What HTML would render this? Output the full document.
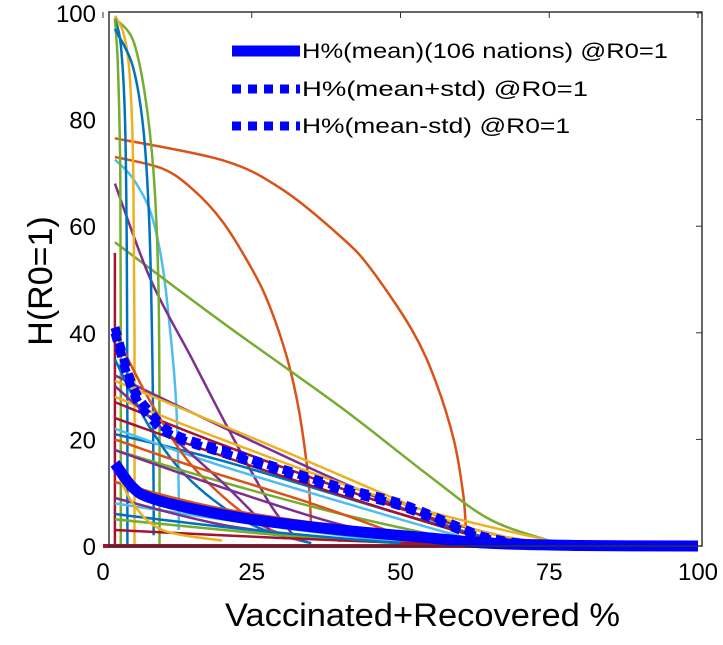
<!DOCTYPE html>
<html><head><meta charset="utf-8"><style>
body{margin:0;background:#fff}
svg{display:block;font-family:"Liberation Sans",Arial,sans-serif}
</style></head><body>
<svg id="chart" width="723" height="645" viewBox="0 0 723 645">
<rect x="0" y="0" width="723" height="645" fill="#fff"/>
<g id="lines"></g>
<g id="means"></g>
<rect x="109" y="12" width="593" height="534" fill="none" stroke="#333" stroke-width="1.5"/>
<g id="ticks"></g>
<text x="225" y="626" font-size="32" textLength="395" lengthAdjust="spacingAndGlyphs">Vaccinated+Recovered %</text>
<text transform="translate(52,281) rotate(-90)" font-size="34" text-anchor="middle">H(R0=1)</text>
<g>
<line x1="232" y1="51" x2="300" y2="51" stroke="#0000ff" stroke-width="11"/>
<text x="302" y="58" font-size="21" textLength="366" lengthAdjust="spacingAndGlyphs">H%(mean)(106 nations) @R0=1</text>
<line x1="232" y1="89" x2="300" y2="89" stroke="#0000ff" stroke-width="9" stroke-dasharray="9 7"/>
<text x="302" y="96" font-size="21" textLength="286" lengthAdjust="spacingAndGlyphs">H%(mean+std) @R0=1</text>
<line x1="232" y1="126" x2="300" y2="126" stroke="#0000ff" stroke-width="9" stroke-dasharray="9 7"/>
<text x="302" y="133" font-size="21" textLength="268" lengthAdjust="spacingAndGlyphs">H%(mean-std) @R0=1</text>
</g>
</svg>
<script>
const xTicks=[0,25,50,75,100];
const yTicks=[0,20,40,60,80,100];
const colors=['#0072BD','#D95319','#EDB120','#7E2F8E','#77AC30','#4DBEEE','#A2142F'];
const lineColors=[1,1,5,4,3,4,2,0,4,0,6,3,2,6,0,5,0,1,4,3,2,6,1,5,3,4,6,0,2,3,1,6];
const linePoints=[
[[2,76.5],[20,72.4],[30,67],[40,58],[45,52],[52,40.4],[56,30.6],[59,19.7],[60.5,10],[61,3],[61,0]],
[[2,73],[10,70.8],[15,67],[20,61],[25,52],[28,45],[31,35],[33,25],[34.5,12.6],[35,3]],
[[2,72.5],[5,69],[8,62.6],[10,52.6],[11.5,38],[12.3,26.6],[12.7,12],[12.7,3]],
[[2,57],[20,42],[40,26],[55,13],[65,5],[75,1]],
[[2,68],[8,50],[15,35],[22,20],[28,8],[32,2]],
[[2,99],[5,95],[7,85],[8.5,70],[9.3,50],[9.5,25],[9.5,0]],
[[2,99.5],[3.5,96],[4.5,88],[5.1,70],[5.3,40],[5.3,0]],
[[2,99],[3,94],[3.7,80],[4,55],[4.1,20],[4.1,0]],
[[2,99],[2.5,90],[2.9,70],[3,40],[3,0]],
[[2,97],[5,90],[6.8,78],[7.8,60],[8.3,35],[8.5,10],[8.5,2]],
[[2,55],[2,0]],
[[2,32],[15,25],[40,12],[60,3],[70,0.5]],
[[2,28],[20,20],[50,8],[75,1]],
[[2,27],[20,19],[50,7],[70,1]],
[[2,21],[20,16],[50,6],[68,0.5]],
[[2,22],[20,15],[50,5],[65,0.3]],
[[2,35],[8,22],[15,12],[25,4],[35,0.5]],
[[2,40],[8,27],[15,15],[25,5],[33,1]],
[[2,18],[20,12],[40,6],[60,1]],
[[2,30],[10,22],[20,12],[28,3]],
[[2,31],[30,18],[60,4],[75,0.5]],
[[2,24],[25,15],[50,6],[65,1]],
[[2,12],[20,7],[50,2],[60,0]],
[[2,8],[20,5],[40,2],[55,0.3]],
[[2,9],[20,4],[40,1]],
[[2,5],[30,2],[50,0.5]],
[[2,3],[30,1.5],[60,0.2]],
[[2,6],[25,3],[50,0.5]],
[[2,15],[5,8],[10,3],[20,1]],
[[2,18],[20,11],[40,4],[55,1]],
[[2,20],[15,15],[35,8],[50,2]],
[[0,0],[100,0]]
];
const meanPts=[[2,15.5],[5,11],[8,9],[15,7],[25,5],[40,3],[55,1.5],[65,0.5],[80,0.1],[100,0]];
const plusPts=[[2,41],[5,30],[8,25],[12,21],[20,18],[30,14.5],[40,11],[50,8],[60,3.5],[65,1.5],[75,0.2],[100,0]];
const minusPts=[[2,40],[5,29],[8,24],[12,20.5],[20,17.5],[30,14],[40,10.5],[50,7.5],[60,3],[65,1.2],[75,0.2],[100,0]];
const X=v=>103+v*5.95, Y=v=>546-v*5.33;
const NS='http://www.w3.org/2000/svg';
function path(pts){
 const P=pts.map(p=>[X(p[0]),Y(p[1])]);
 let d='M'+P[0][0].toFixed(1)+' '+P[0][1].toFixed(1);
 for(let i=0;i<P.length-1;i++){
  const p0=P[i-1]||P[i],p1=P[i],p2=P[i+1],p3=P[i+2]||p2;
  const c1=[p1[0]+(p2[0]-p0[0])/6,p1[1]+(p2[1]-p0[1])/6];
  const c2=[p2[0]-(p3[0]-p1[0])/6,p2[1]-(p3[1]-p1[1])/6];
  d+=' C'+c1.map(v=>v.toFixed(1)).join(' ')+' '+c2.map(v=>v.toFixed(1)).join(' ')+' '+p2[0].toFixed(1)+' '+p2[1].toFixed(1);
 }
 return d;
}
const lg=document.getElementById('lines');
linePoints.forEach((pts,i)=>{
 const p=document.createElementNS(NS,'path');
 p.setAttribute('d',path(pts));p.setAttribute('fill','none');
 p.setAttribute('stroke',colors[lineColors[i]]);
 p.setAttribute('stroke-width',i==linePoints.length-1?4:2.5);
 
 
 lg.appendChild(p);
});
const mg=document.getElementById('means');
[[meanPts,11,null,'mean-line'],[plusPts,9,'9 7','mean-plus-std-line'],[minusPts,9,'9 7','mean-minus-std-line']].forEach(m=>{
 const p=document.createElementNS(NS,'path');
 p.setAttribute('d',path(m[0]));p.setAttribute('fill','none');
 p.setAttribute('stroke','#0000ff');p.setAttribute('stroke-width',m[1]);
 if(m[2])p.setAttribute('stroke-dasharray',m[2]);
 
 
 mg.appendChild(p);
});
const tg=document.getElementById('ticks');
xTicks.forEach(t=>{
 const l=document.createElementNS(NS,'line');
 l.setAttribute('x1',X(t));l.setAttribute('x2',X(t));l.setAttribute('y1',12);l.setAttribute('y2',18);l.setAttribute('stroke','#333');
 
 
 tg.appendChild(l);
 const s=document.createElementNS(NS,'text');
 s.setAttribute('x',X(t));s.setAttribute('y',580);s.setAttribute('font-size',24);s.setAttribute('text-anchor','middle');
 s.textContent=t;
 
 
 tg.appendChild(s);
});
yTicks.forEach(t=>{
 const l=document.createElementNS(NS,'line');
 l.setAttribute('x1',696);l.setAttribute('x2',702);l.setAttribute('y1',Y(t));l.setAttribute('y2',Y(t));l.setAttribute('stroke','#333');
 
 
 tg.appendChild(l);
 const s=document.createElementNS(NS,'text');
 s.setAttribute('x',96);s.setAttribute('y',Y(t)+9);s.setAttribute('font-size',24);s.setAttribute('text-anchor','end');
 s.textContent=t;
 
 
 tg.appendChild(s);
});
</script>
</body></html>
